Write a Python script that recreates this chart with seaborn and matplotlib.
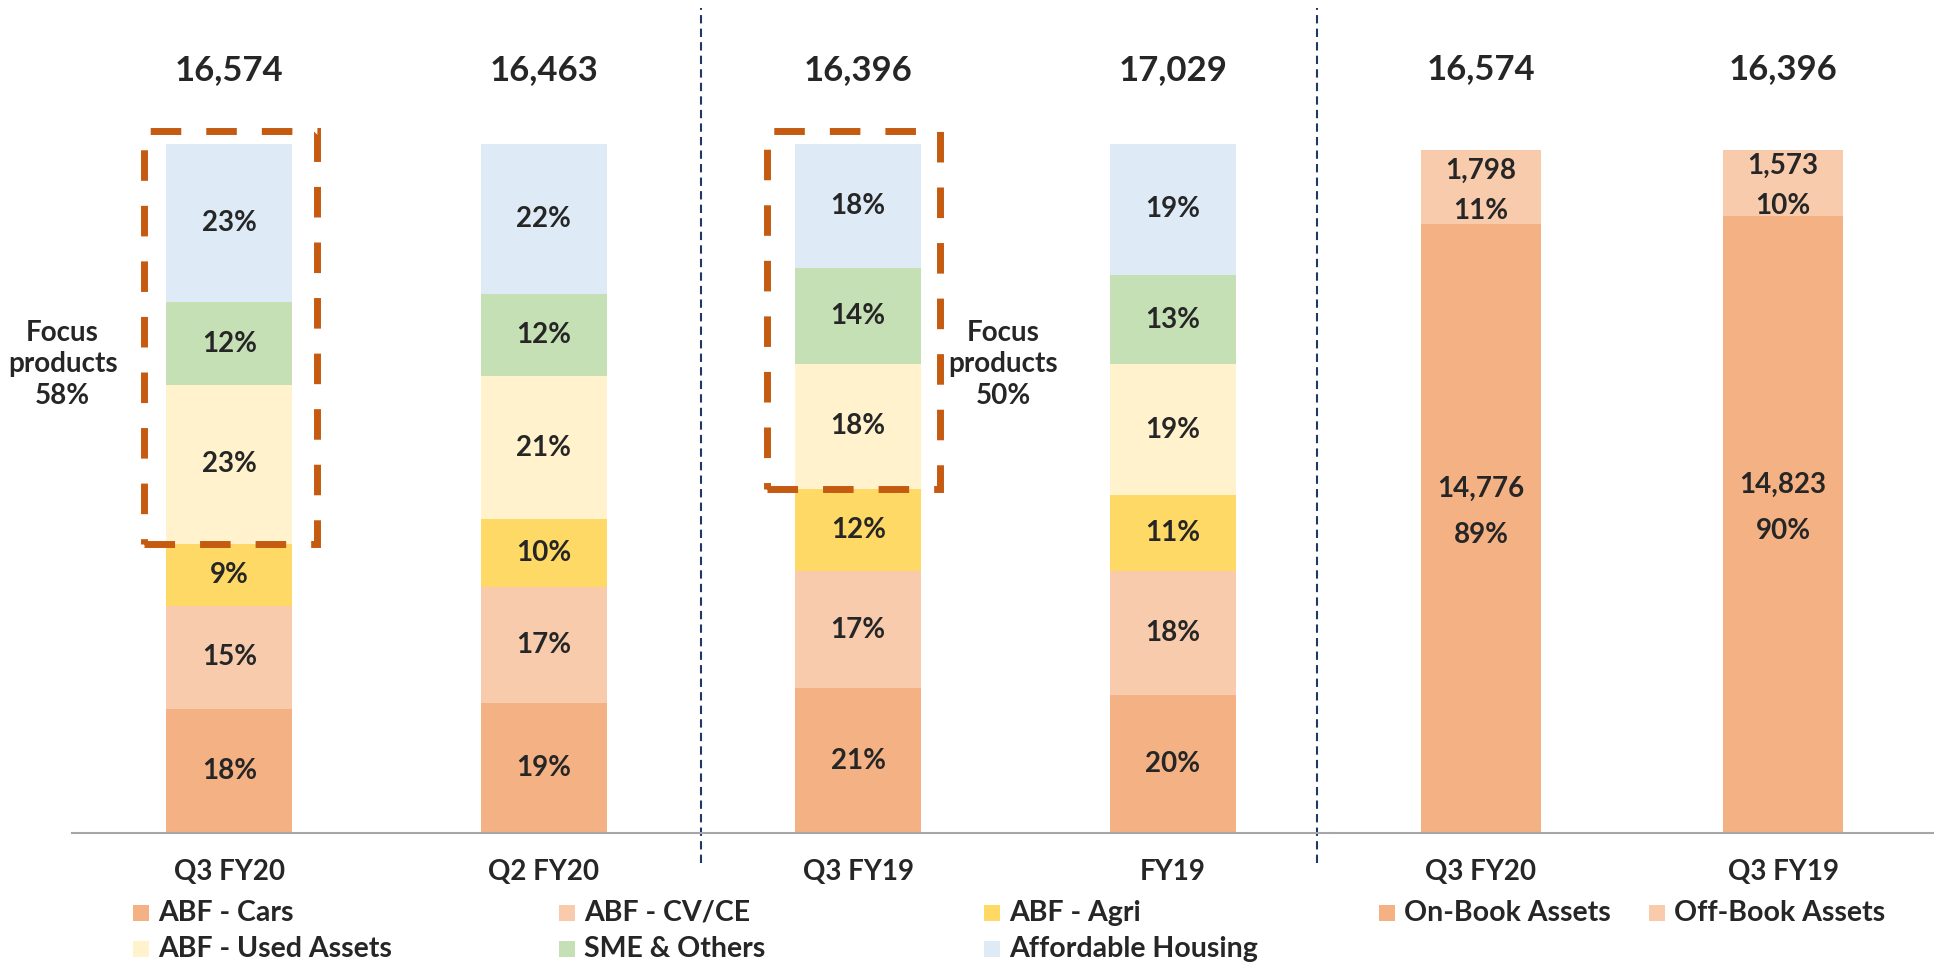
import numpy as np
import pandas as pd
import matplotlib
matplotlib.use("Agg")
import matplotlib.pyplot as plt
import seaborn as sns
from matplotlib.patches import Rectangle

# AUM mix by product (share of book, %)
periods = ["Q3 FY20", "Q2 FY20", "Q3 FY19", "FY19"]
totals = [16574, 16463, 16396, 17029]
segments = ["ABF - Cars", "ABF - CV/CE", "ABF - Agri",
            "ABF - Used Assets", "SME & Others", "Affordable Housing"]
cars = [18, 19, 21, 20]
cv_ce = [15, 17, 17, 18]
agri = [9, 10, 12, 11]
used_assets = [23, 21, 18, 19]
sme = [12, 12, 14, 13]
housing = [23, 22, 18, 19]
focus_share = {"Q3 FY20": 58, "Q3 FY19": 50}

# on-book vs off-book
book_periods = ["Q3 FY20", "Q3 FY19"]
on_book = [14776, 14823]
off_book = [1798, 1573]

seg_colors = ["#F4B183", "#F8CBAD", "#FFD966", "#FFF2CC", "#C5E0B4", "#DEEBF7"]
on_color, off_color = "#F4B183", "#F8CBAD"
box_color = "#C55A11"
div_color = "#203864"

sns.set_style("white")
plt.rcParams["font.family"] = ["Lato", "DejaVu Sans"]
plt.rcParams["font.weight"] = "bold"

W, H = 1934, 966
fig = plt.figure(figsize=(W / 100, H / 100), dpi=100)


def px_axes(x0, x1, ytop, ybot):
    return fig.add_axes([x0 / W, 1 - ybot / H, (x1 - x0) / W, (ybot - ytop) / H])


ax = px_axes(72, 1330, 144, 833)
ax2 = px_axes(1330, 1934, 150, 833)

# ---- left panel: stacked product mix ----
mix = pd.DataFrame({"period": periods, segments[0]: cars, segments[1]: cv_ce,
                    segments[2]: agri, segments[3]: used_assets,
                    segments[4]: sme, segments[5]: housing})
vals = mix[segments]
shares = vals.div(vals.sum(axis=1), axis=0) * 100
tops = shares.cumsum(axis=1)

for seg, col in reversed(list(zip(segments, seg_colors))):
    sns.barplot(x=mix["period"], y=tops[seg], color=col, width=0.4,
                saturation=1, errorbar=None, linewidth=0, ax=ax)

for i in range(len(periods)):
    for seg in segments:
        mid = tops.loc[i, seg] - shares.loc[i, seg] / 2
        ax.text(i, mid, f"{vals.loc[i, seg]}%", ha="center", va="center",
                fontsize=20, fontweight="bold")
    ax.text(i, 110.7, f"{totals[i]:,}", ha="center", va="center",
            fontsize=25, fontweight="bold", clip_on=False)

# focus products boxes
for p, share in focus_share.items():
    i = periods.index(p)
    bottom = tops.loc[i, "ABF - Agri"]
    if i == 0:
        x0, x1, tx = i - 0.27, i + 0.28, i - 0.53
    else:
        x0, x1, tx = i - 0.29, i + 0.26, i + 0.46
    ax.add_patch(Rectangle((x0, bottom), x1 - x0, 101.9 - bottom, fill=False,
                           edgecolor=box_color, lw=5, linestyle=(0, (4.4, 3.6)),
                           clip_on=False, zorder=5))
    ax.text(tx, 68, f"Focus\nproducts\n{share}%", ha="center", va="center",
            fontsize=20, fontweight="bold", linespacing=1.25, clip_on=False)

ax.set_xlim(-0.5, 3.5)
ax.set_ylim(0, 100)

# ---- right panel: on-book / off-book ----
book = pd.DataFrame({"period": book_periods, "on": on_book, "off": off_book})
book["total"] = book["on"] + book["off"]
book["on_pct"] = book["on"] / book["total"] * 100
book["all_pct"] = book["total"] / book["total"] * 100

sns.barplot(x=book["period"], y=book["all_pct"], color=off_color, width=0.4,
            saturation=1, errorbar=None, linewidth=0, ax=ax2)
sns.barplot(x=book["period"], y=book["on_pct"], color=on_color, width=0.4,
            saturation=1, errorbar=None, linewidth=0, ax=ax2)


def seg_label(a, x, y, text, dy):
    a.annotate(text, (x, y), xytext=(0, dy), textcoords="offset points",
               ha="center", va="center", fontsize=20, fontweight="bold")


for i, r in book.iterrows():
    off_pct = 100 - r["on_pct"]
    off_mid = r["on_pct"] + off_pct / 2
    seg_label(ax2, i, off_mid, f"{int(r['off']):,}", 12)
    seg_label(ax2, i, off_mid, f"{off_pct:.0f}%", -17)
    on_mid = r["on_pct"] / 2
    seg_label(ax2, i, on_mid, f"{int(r['on']):,}", 28.5)
    seg_label(ax2, i, on_mid, f"{r['on_pct']:.0f}%", -4.5)
    ax2.text(i, 111.8, f"{int(r['total']):,}", ha="center", va="center",
             fontsize=25, fontweight="bold", clip_on=False)

ax2.set_xlim(-0.5, 1.5)
ax2.set_ylim(0, 100)

for a in (ax, ax2):
    sns.despine(ax=a, left=True)
    a.spines["bottom"].set_color("#A6A6A6")
    a.spines["bottom"].set_linewidth(1.5)
    a.set_yticks([])
    a.set_xlabel("")
    a.set_ylabel("")
    a.tick_params(axis="x", length=0, pad=19, labelsize=20)
    for lab in a.get_xticklabels():
        lab.set_fontweight("bold")
    a.patch.set_alpha(0)

# section dividers
for x in (1.5, 3.46):
    ax.axvline(x, ymin=-0.044, ymax=1.198, color=div_color, lw=1.5,
               linestyle=(0, (4, 2.5)), clip_on=False)

# legends (Excel-style fixed columns)
legend_items = [
    (segments[0], seg_colors[0], 133, 913), (segments[1], seg_colors[1], 559, 913),
    (segments[2], seg_colors[2], 984, 913), (segments[3], seg_colors[3], 133, 949),
    (segments[4], seg_colors[4], 559, 949), (segments[5], seg_colors[5], 984, 949),
    ("On-Book Assets", on_color, 1379, 913), ("Off-Book Assets", off_color, 1649, 913),
]
for label, col, x, y in legend_items:
    fig.add_artist(Rectangle((x / W, 1 - (y + 8) / H), 16 / W, 16 / H,
                             transform=fig.transFigure, facecolor=col, edgecolor="none"))
    fig.text((x + 25) / W, 1 - y / H, label, ha="left", va="center",
             fontsize=20.5, fontweight="bold")

fig.savefig("out.png", dpi=100)
